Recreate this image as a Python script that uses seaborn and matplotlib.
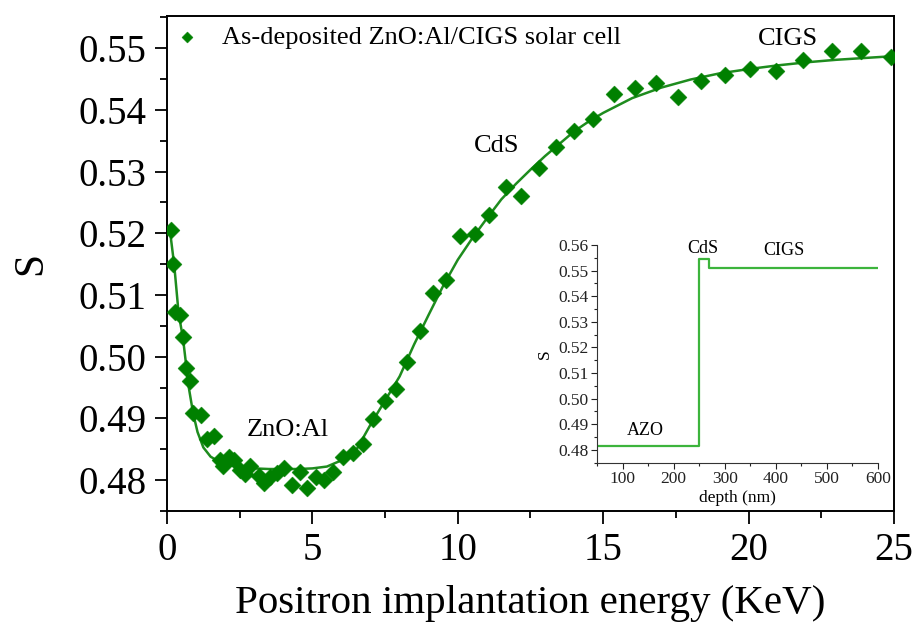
import matplotlib
matplotlib.use("Agg")
import matplotlib.pyplot as plt
import seaborn as sns
import pandas as pd
from matplotlib.ticker import MultipleLocator

# ---- measured S-parameter data ----
energy = [0.15, 0.20, 0.29, 0.46, 0.55, 0.66, 0.80, 0.91, 1.18, 1.37, 1.60, 1.83,
          1.92, 2.12, 2.31, 2.52, 2.67, 2.86, 3.15, 3.34, 3.55, 3.78, 4.03, 4.29,
          4.58, 4.83, 5.12, 5.40, 5.70, 6.04, 6.39, 6.73, 7.10, 7.50, 7.86, 8.24,
          8.70, 9.16, 9.61, 10.07, 10.59, 11.08, 11.65, 12.19, 12.80, 13.37, 14.00,
          14.65, 15.37, 16.08, 16.80, 17.57, 18.37, 19.20, 20.05, 20.95, 21.88,
          22.87, 23.87, 24.90]
s_param = [0.5205, 0.5150, 0.5073, 0.5068, 0.5032, 0.4982, 0.4961, 0.4909, 0.4906,
           0.4867, 0.4871, 0.4832, 0.4823, 0.4838, 0.4833, 0.4817, 0.4810, 0.4823,
           0.4806, 0.4796, 0.4805, 0.4812, 0.4819, 0.4792, 0.4813, 0.4788, 0.4805,
           0.4800, 0.4813, 0.4838, 0.4844, 0.4859, 0.4899, 0.4929, 0.4948, 0.4991,
           0.5041, 0.5103, 0.5124, 0.5195, 0.5198, 0.5230, 0.5275, 0.5260, 0.5306,
           0.5340, 0.5365, 0.5385, 0.5425, 0.5435, 0.5443, 0.5421, 0.5446, 0.5456,
           0.5466, 0.5463, 0.5481, 0.5495, 0.5496, 0.5485]

# ---- fitted curve ----
fit_energy = [0.1, 0.25, 0.4, 0.55, 0.65, 0.75, 0.9, 1.05, 1.25, 1.5, 1.75, 2.0, 2.5,
              3.0, 3.5, 4.0, 4.5, 5.0, 5.5, 6.0, 6.5, 7.0, 7.5, 8.0, 8.5, 9.0, 9.5,
              10.0, 10.5, 11.0, 11.5, 12.0, 12.5, 13.0, 13.5, 14.0, 14.5, 15.0, 16.0,
              17.0, 18.0, 19.0, 20.0, 21.0, 22.0, 23.0, 24.0, 25.0]
fit_s = [0.5205, 0.5148, 0.5070, 0.5030, 0.4990, 0.4950, 0.4908, 0.4878, 0.4853,
         0.4838, 0.4831, 0.4826, 0.4821, 0.4819, 0.4818, 0.4818, 0.4818, 0.4819,
         0.4822, 0.4832, 0.4848, 0.4890, 0.4929, 0.4968, 0.5020, 0.5068, 0.5115,
         0.5157, 0.5192, 0.5224, 0.5255, 0.5280, 0.5303, 0.5325, 0.5345, 0.5365,
         0.5381, 0.5395, 0.5419, 0.5436, 0.5449, 0.5459, 0.5466, 0.5472, 0.5477,
         0.5481, 0.5484, 0.5487]

# ---- inset: layer model ----
depth = [50, 250, 250, 270, 270, 600]
layer_s = [0.4815, 0.4815, 0.5545, 0.5545, 0.5510, 0.5510]

legend_label = "As-deposited ZnO:Al/CIGS solar cell"

sns.set_theme(style="ticks")
SERIF = ['Liberation Serif', 'DejaVu Serif']
plt.rcParams['font.family'] = SERIF
plt.rcParams['mathtext.fontset'] = 'stix'
plt.rcParams['text.color'] = 'black'
plt.rcParams['axes.labelcolor'] = 'black'
plt.rcParams['xtick.color'] = 'black'
plt.rcParams['ytick.color'] = 'black'

fig = plt.figure(figsize=(9.15, 6.35), dpi=100)
fig.patch.set_facecolor('white')
ax = fig.add_axes([0.1825, 0.1953, 0.7945, 0.7795])

df = pd.DataFrame({"E": energy, "S": s_param})
dfit = pd.DataFrame({"E": fit_energy, "S": fit_s})

sns.lineplot(data=dfit, x="E", y="S", ax=ax, color="#1e8c1e", lw=1.8,
             sort=False, estimator=None, zorder=2)
sns.scatterplot(data=df, x="E", y="S", ax=ax, marker="D", s=75, color="#008000",
                edgecolor="#008000", linewidth=0.3, zorder=3, label=legend_label)

ax.set_xlim(0, 25)
ax.set_ylim(0.475, 0.5552)
ax.xaxis.set_major_locator(MultipleLocator(5))
ax.xaxis.set_minor_locator(MultipleLocator(2.5))
ax.yaxis.set_major_locator(MultipleLocator(0.01))
ax.yaxis.set_minor_locator(MultipleLocator(0.005))
ax.yaxis.set_major_formatter(matplotlib.ticker.FormatStrFormatter('%.2f'))
ax.tick_params(axis='both', which='major', direction='out', length=9, width=1.3,
               labelsize=28, colors='black', pad=6)
ax.tick_params(axis='both', which='minor', direction='out', length=5, width=1.3,
               colors='black')
ax.tick_params(top=False, right=False, which='both')
for sp in ax.spines.values():
    sp.set_visible(True)
    sp.set_linewidth(1.4)
    sp.set_color('black')
ax.set_xlabel("Positron implantation energy (KeV)", fontsize=29.5, labelpad=12,
              color='black')
ax.set_ylabel("S", fontsize=30, labelpad=20, color='black')

leg = ax.legend(loc='upper left', bbox_to_anchor=(0.0055, 0.98), frameon=False,
                fontsize=19, handletextpad=0.73, borderaxespad=0, borderpad=0,
                markerscale=0.65, handlelength=1.2, labelcolor='black')

ax.text(4.17, 0.4881, "ZnO:Al", fontsize=19, ha='center', va='center', family=SERIF)
ax.text(11.35, 0.5342, "CdS", fontsize=19, ha='center', va='center', family=SERIF)
ax.text(21.37, 0.5515, "CIGS", fontsize=19, ha='center', va='center', family=SERIF)

# ---- inset ----
ins = fig.add_axes([0.6525, 0.2709, 0.307, 0.3433])
ins.set_facecolor('none')
dins = pd.DataFrame({"d": depth, "S": layer_s})
sns.lineplot(data=dins, x="d", y="S", ax=ins, color="#3cb43c", lw=1.6,
             sort=False, estimator=None)
ins.set_xlim(50, 600)
ins.set_ylim(0.4749, 0.56)
ins.xaxis.set_major_locator(MultipleLocator(100))
ins.xaxis.set_minor_locator(MultipleLocator(50))
ins.yaxis.set_major_locator(MultipleLocator(0.01))
ins.yaxis.set_minor_locator(MultipleLocator(0.005))
ins.yaxis.set_major_formatter(matplotlib.ticker.FormatStrFormatter('%.2f'))
ins.tick_params(axis='both', which='major', direction='out', length=4, width=0.8,
                labelsize=12.5, pad=2, colors='#222222')
ins.tick_params(axis='both', which='minor', direction='out', length=2, width=0.8,
                colors='#222222')
for s in ['top', 'right']:
    ins.spines[s].set_visible(False)
for s in ['left', 'bottom']:
    ins.spines[s].set_linewidth(0.8)
    ins.spines[s].set_color('#333333')
ins.set_xlabel("depth (nm)", fontsize=12.5, labelpad=2)
ins.set_ylabel("S", fontsize=12.5, labelpad=4)
ins.text(145, 0.4875, "AZO", fontsize=13, ha='center', va='center')
ins.text(258, 0.5588, "CdS", fontsize=13, ha='center', va='center')
ins.text(415, 0.5577, "CIGS", fontsize=13, ha='center', va='center')

fig.savefig("out.png", dpi=100, facecolor='white')
